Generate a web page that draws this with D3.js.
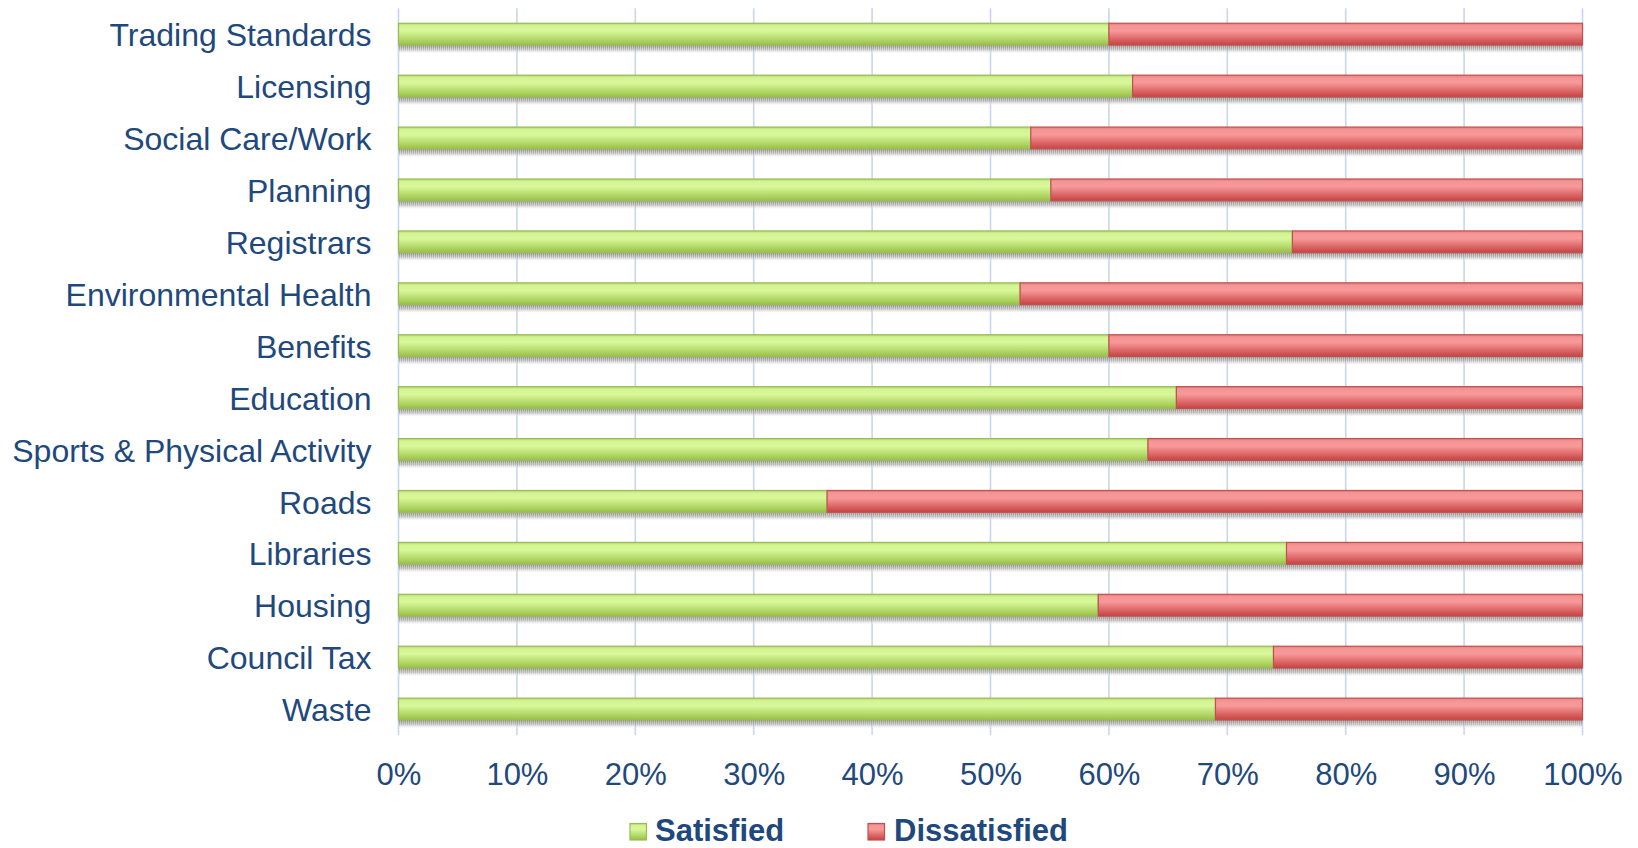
<!DOCTYPE html>
<html>
<head>
<meta charset="utf-8">
<script src="https://cdn.jsdelivr.net/npm/d3@7"></script>
<style>
  html, body { margin: 0; padding: 0; background: #ffffff; }
  svg { display: block; font-family: "Liberation Sans", Arial, sans-serif; }
</style>
</head>
<body>
<svg id="chart" width="1638" height="848"></svg>
<script>
// Service satisfaction survey: share of respondents satisfied / dissatisfied per service
const categories = [
  "Trading Standards", "Licensing", "Social Care/Work", "Planning", "Registrars",
  "Environmental Health", "Benefits", "Education", "Sports & Physical Activity",
  "Roads", "Libraries", "Housing", "Council Tax", "Waste"
];
const satisfied    = [60, 62, 53.4, 55.1, 75.5, 52.5, 60, 65.7, 63.3, 36.2, 75, 59.1, 73.9, 69];
const dissatisfied = [40, 38, 46.6, 44.9, 24.5, 47.5, 40, 34.3, 36.7, 63.8, 25, 40.9, 26.1, 31];
const seriesNames  = ["Satisfied", "Dissatisfied"];
const tickValues   = [0, 10, 20, 30, 40, 50, 60, 70, 80, 90, 100];

const textColor = "#1F497D";
const svg = d3.select("#chart");

const plot = { left: 398.5, right: 1582.5, top: 8.2, bottom: 735 };

const x = d3.scaleLinear().domain([0, 100]).range([plot.left, plot.right]);
const y = d3.scaleBand()
  .domain(categories)
  .range([plot.top, plot.bottom])
  .paddingInner(0.58)
  .paddingOuter(0.29);

// gradients for the bevelled bar look
const defs = svg.append("defs");
function barGradient(id, stops) {
  const g = defs.append("linearGradient").attr("id", id)
    .attr("x1", 0).attr("y1", 0).attr("x2", 0).attr("y2", 1);
  stops.forEach(([o, c]) => g.append("stop").attr("offset", o).attr("stop-color", c));
}
barGradient("grad-sat", [[0, "#B5D86C"], [0.12, "#D4F494"], [0.35, "#D8F89A"], [0.75, "#B2D766"], [1, "#98BF47"]]);
barGradient("grad-dis", [[0, "#E57E7E"], [0.12, "#F69595"], [0.35, "#F89999"], [0.75, "#DA6262"], [1, "#C54242"]]);
const sh = defs.append("linearGradient").attr("id", "grad-shadow")
  .attr("x1", 0).attr("y1", 0).attr("x2", 0).attr("y2", 1);
sh.append("stop").attr("offset", 0).attr("stop-color", "#7d7d7d").attr("stop-opacity", 0.9);
sh.append("stop").attr("offset", 0.55).attr("stop-color", "#9a9a9a").attr("stop-opacity", 0.65);
sh.append("stop").attr("offset", 1).attr("stop-color", "#c8c8c8").attr("stop-opacity", 0.05);

// grainy texture for the drop shadow
const pat = defs.append("pattern").attr("id", "grain")
  .attr("width", 2).attr("height", 2).attr("patternUnits", "userSpaceOnUse");
pat.append("rect").attr("width", 1).attr("height", 2).attr("fill", "#ffffff").attr("opacity", 0.35);

const fills   = { Satisfied: "url(#grad-sat)", Dissatisfied: "url(#grad-dis)" };
const strokes = { Satisfied: "#9BBB59", Dissatisfied: "#C0504D" };

// vertical gridlines
svg.append("g").selectAll("line")
  .data(tickValues)
  .join("line")
  .attr("x1", d => x(d)).attr("x2", d => x(d))
  .attr("y1", plot.top).attr("y2", plot.bottom)
  .attr("stroke", "#C8D7EB")
  .attr("stroke-width", 1.6);

// stacked data
const rows = categories.map((c, i) => ({ category: c, Satisfied: satisfied[i], Dissatisfied: dissatisfied[i] }));
const stacked = d3.stack().keys(seriesNames)(rows);

// drop shadows under each full bar
const shadowH = 8;
const shadowG = svg.append("g");
stacked.forEach(layer => {
  const s = shadowG.selectAll(null).data(layer);
  s.join("rect")
    .attr("x", d => x(d[0]))
    .attr("y", d => y(d.data.category) + y.bandwidth())
    .attr("width", d => x(d[1]) - x(d[0]))
    .attr("height", shadowH)
    .attr("fill", "url(#grad-shadow)");
  s.join("rect")
    .attr("x", d => x(d[0]))
    .attr("y", d => y(d.data.category) + y.bandwidth())
    .attr("width", d => x(d[1]) - x(d[0]))
    .attr("height", shadowH)
    .attr("fill", "url(#grain)");
});

// bars
svg.append("g").selectAll("g")
  .data(stacked)
  .join("g")
  .each(function(layer) {
    d3.select(this).selectAll("rect")
      .data(layer)
      .join("rect")
      .attr("x", d => x(d[0]))
      .attr("y", d => y(d.data.category))
      .attr("width", d => x(d[1]) - x(d[0]))
      .attr("height", y.bandwidth())
      .attr("fill", fills[layer.key])
      .attr("stroke", strokes[layer.key])
      .attr("stroke-width", 1.2);
  });

// category axis
const yAxis = svg.append("g")
  .attr("transform", `translate(${plot.left},0)`)
  .call(d3.axisLeft(y).tickSize(0).tickPadding(27));
yAxis.select(".domain").remove();
yAxis.selectAll("text")
  .attr("dy", "0.38em")
  .attr("fill", textColor)
  .style("font-size", "32px")
  .style("font-family", "'Liberation Sans', Arial, sans-serif");

// value axis
const xAxis = svg.append("g")
  .attr("transform", `translate(0,${plot.bottom})`)
  .call(d3.axisBottom(x).tickValues(tickValues).tickSize(0).tickFormat(d => d + "%"));
xAxis.select(".domain").remove();
xAxis.selectAll("text")
  .attr("y", 50)
  .attr("dy", null)
  .attr("fill", textColor)
  .style("font-size", "31px")
  .style("font-family", "'Liberation Sans', Arial, sans-serif");

// legend
const legendItems = [
  { name: seriesNames[0], sx: 630, tx: 655 },
  { name: seriesNames[1], sx: 868, tx: 894 }
];
const legend = svg.append("g");
legendItems.forEach(it => {
  legend.append("rect")
    .attr("x", it.sx).attr("y", 823.5)
    .attr("width", 16.5).attr("height", 16.5)
    .attr("fill", fills[it.name])
    .attr("stroke", strokes[it.name])
    .attr("stroke-width", 1.2);
  legend.append("text")
    .attr("x", it.tx).attr("y", 841)
    .attr("fill", textColor)
    .style("font-size", "31px")
    .style("font-weight", "bold")
    .text(it.name);
});
</script>
</body>
</html>
